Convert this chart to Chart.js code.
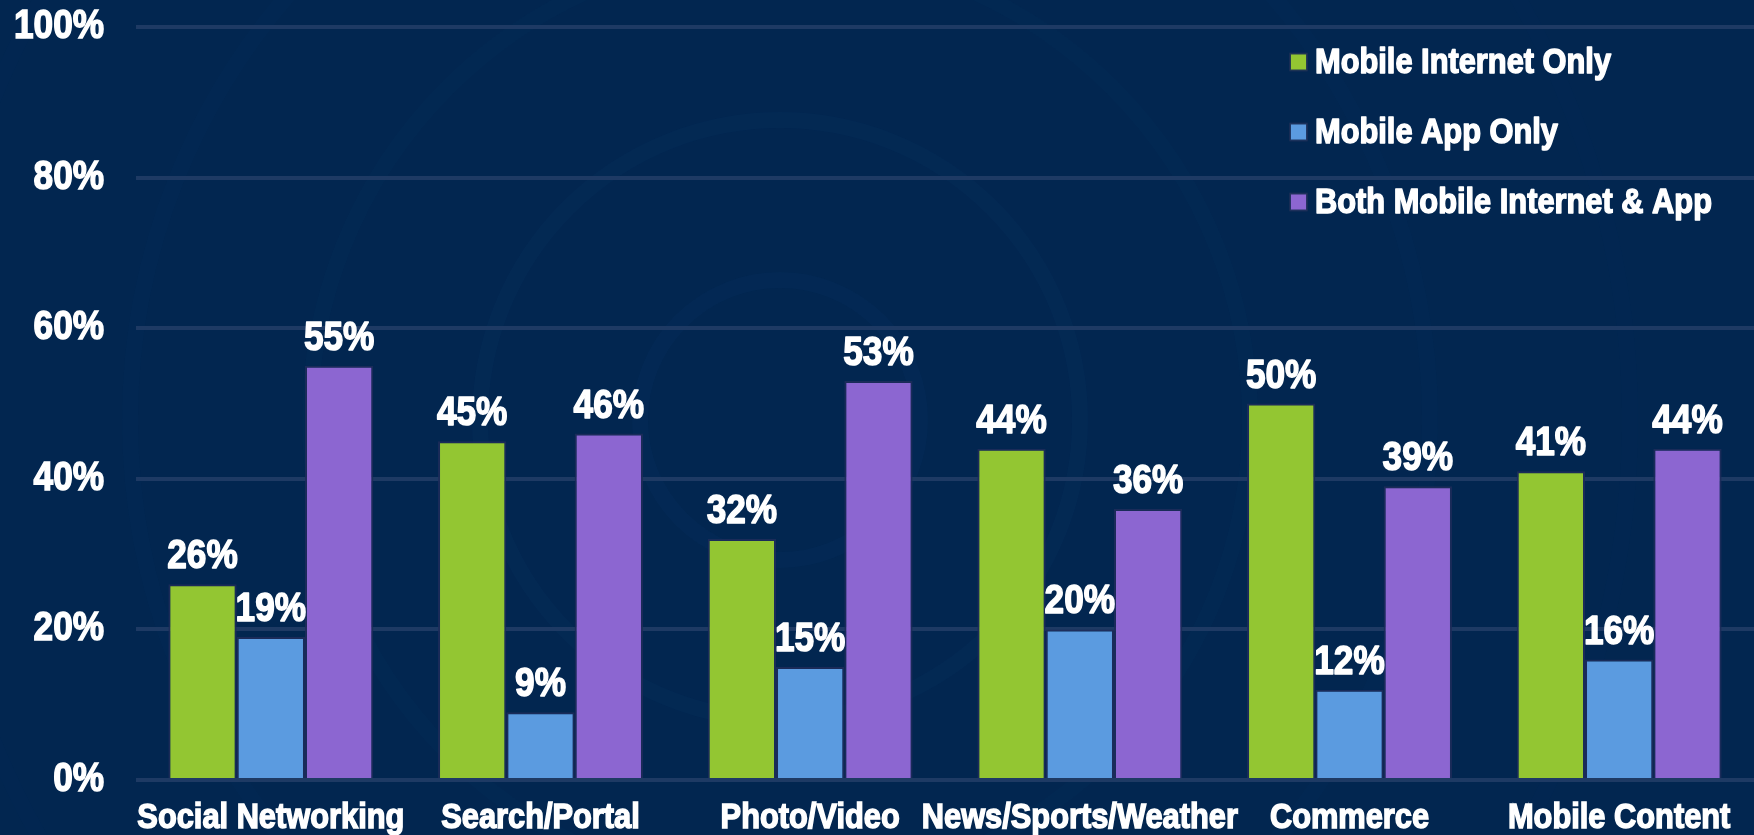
<!DOCTYPE html>
<html>
<head>
<meta charset="utf-8">
<title>Mobile Internet vs App usage</title>
<script src="https://cdn.jsdelivr.net/npm/chart.js@4.4.1/dist/chart.umd.min.js"></script>
<style>
  html, body { margin: 0; padding: 0; background: #022650; }
  #wrap { width: 1754px; height: 835px; position: relative; }
</style>
</head>
<body>
<div id="wrap"><canvas id="usoMovil"></canvas></div>
<script>
const categorias = ['Social Networking', 'Search/Portal', 'Photo/Video', 'News/Sports/Weather', 'Commerce', 'Mobile Content'];
const soloInternet = [26, 45, 32, 44, 50, 41];
const soloApp = [19, 9, 15, 20, 12, 16];
const ambos = [55, 46, 53, 36, 39, 44];
const series = ['Mobile Internet Only', 'Mobile App Only', 'Both Mobile Internet & App'];
const colores = ['#93c632', '#5b9be0', '#8c66d1'];
const ticksY = [0, 20, 40, 60, 80, 100];

const FUENTE = '"Liberation Sans", Arial, sans-serif';
const ANCHO_TEXTO = 0.88; // letra estrecha, tipo Arial Narrow
const TRAZO = 1.5;        // engrosa un poco las letras

// fondo azul con anillos muy tenues
const fondo = {
  id: 'fondo',
  beforeDraw(chart) {
    const { ctx, width, height } = chart;
    ctx.save();
    ctx.fillStyle = '#022650';
    ctx.fillRect(0, 0, width, height);
    const cx = 780, cy = 420;
    ctx.lineWidth = 16;
    [140, 300, 470, 650, 850].forEach((r, i) => {
      ctx.strokeStyle = 'rgba(30, 90, 150, ' + (0.06 - i * 0.008) + ')';
      ctx.beginPath();
      ctx.arc(cx, cy, r, 0, Math.PI * 2);
      ctx.stroke();
    });
    ctx.restore();
  }
};

// porcentaje encima de cada barra
const etiquetas = {
  id: 'etiquetas',
  afterDatasetsDraw(chart) {
    const { ctx } = chart;
    ctx.save();
    ctx.fillStyle = '#ffffff';
    ctx.strokeStyle = '#ffffff';
    ctx.lineWidth = TRAZO;
    ctx.lineJoin = 'round';
    ctx.font = 'bold 40px ' + FUENTE;
    ctx.textAlign = 'center';
    ctx.textBaseline = 'alphabetic';
    chart.data.datasets.forEach((ds, i) => {
      chart.getDatasetMeta(i).data.forEach((bar, j) => {
        const txt = ds.data[j] + '%';
        ctx.strokeText(txt, bar.x, bar.y - 16);
        ctx.fillText(txt, bar.x, bar.y - 16);
      });
    });
    ctx.restore();
  }
};

// leyenda en columna arriba a la derecha
const leyenda = {
  id: 'leyenda',
  afterDraw(chart) {
    const { ctx } = chart;
    const x = 1290, y0 = 62, paso = 70, lado = 17;
    ctx.save();
    ctx.font = 'bold 35px ' + FUENTE;
    ctx.textBaseline = 'middle';
    ctx.lineJoin = 'round';
    chart.data.datasets.forEach((ds, i) => {
      const y = y0 + i * paso;
      ctx.fillStyle = ds.backgroundColor;
      ctx.fillRect(x, y - lado / 2, lado, lado);
      ctx.strokeStyle = 'rgba(25, 45, 85, 0.9)';
      ctx.lineWidth = 2;
      ctx.strokeRect(x, y - lado / 2, lado, lado);
      ctx.fillStyle = '#ffffff';
      ctx.strokeStyle = '#ffffff';
      ctx.lineWidth = TRAZO;
      ctx.strokeText(ds.label, x + lado + 8, y + 1);
      ctx.fillText(ds.label, x + lado + 8, y + 1);
    });
    ctx.restore();
  }
};

const ctx = document.getElementById('usoMovil').getContext('2d');

// todo el texto del canvas se comprime a lo ancho
function estrechar(original) {
  return function (texto, x, y) {
    this.save();
    this.translate(x, y);
    this.scale(ANCHO_TEXTO, 1);
    original.call(this, texto, 0, 0);
    this.restore();
  };
}
ctx.fillText = estrechar(ctx.fillText);
ctx.strokeText = estrechar(ctx.strokeText);

new Chart(ctx, {
  type: 'bar',
  data: {
    labels: categorias,
    datasets: [soloInternet, soloApp, ambos].map((valores, i) => ({
      label: series[i],
      data: valores,
      backgroundColor: colores[i],
      borderColor: 'rgba(30, 45, 90, 0.85)',
      borderWidth: 2,
      categoryPercentage: 0.76,
      barPercentage: 1.0
    }))
  },
  options: {
    responsive: true,
    maintainAspectRatio: false,
    animation: false,
    layout: { padding: { top: 27, right: 0, bottom: 0, left: 0 } },
    plugins: {
      legend: { display: false },
      tooltip: { enabled: false }
    },
    scales: {
      x: {
        grid: { display: false },
        border: { display: false },
        ticks: {
          color: '#ffffff',
          font: { family: FUENTE, size: 35, weight: 'bold' },
          textStrokeColor: '#ffffff',
          textStrokeWidth: TRAZO,
          maxRotation: 0,
          minRotation: 0,
          autoSkip: false,
          padding: 9
        },
        afterFit(scale) {
          scale.height = 55;
          scale.paddingLeft = 0;
          scale.paddingRight = 0;
        }
      },
      y: {
        min: 0,
        max: 100,
        afterBuildTicks(scale) { scale.ticks = ticksY.map(v => ({ value: v })); },
        grid: { color: '#1e3a64', lineWidth: 4, drawTicks: false },
        border: { display: false },
        ticks: {
          color: '#ffffff',
          font: { family: FUENTE, size: 40, weight: 'bold' },
          textStrokeColor: '#ffffff',
          textStrokeWidth: TRAZO,
          padding: 32,
          callback: v => v + '%'
        },
        afterFit(scale) {
          scale.width = 136;
          scale.paddingTop = 0;
          scale.paddingBottom = 0;
        }
      }
    }
  },
  plugins: [fondo, etiquetas, leyenda]
});
</script>
</body>
</html>
